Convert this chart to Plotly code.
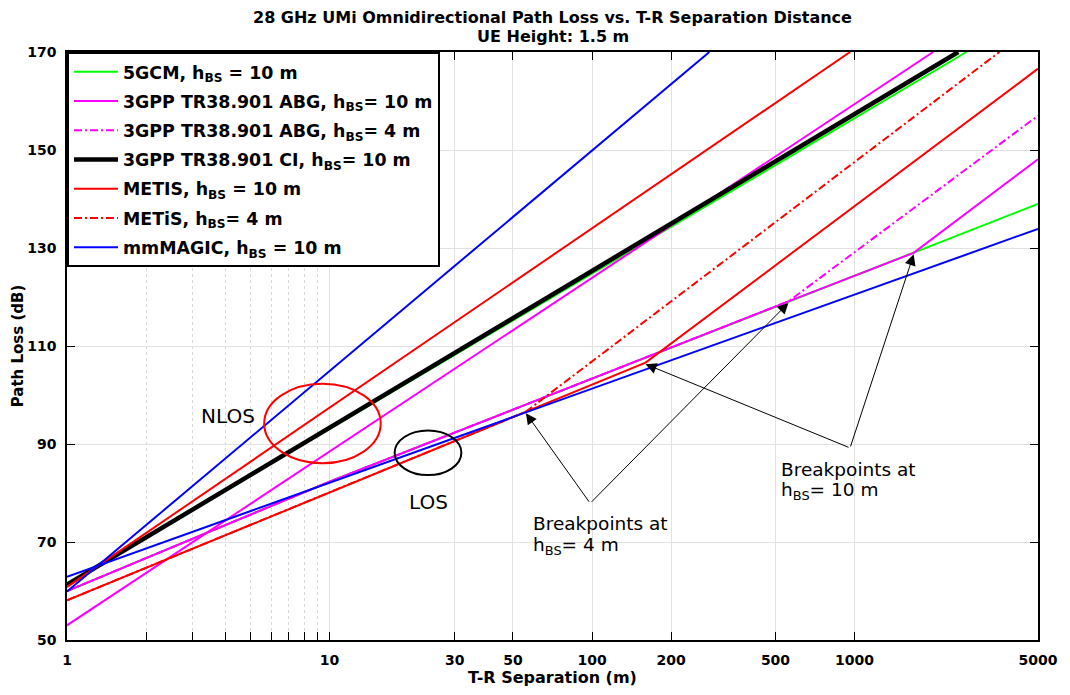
import math
import plotly.graph_objects as go

# ---- data (distance in m, path loss in dB) ----
gcm_nlos_d = [1, 2670];            gcm_nlos_pl = [61.4, 170.0]
gcm_los_d = [1, 10, 5000];         gcm_los_pl = [60.0, 82.3, 139.0]
abg10_nlos_d = [1, 1995];          abg10_nlos_pl = [53.0, 170.0]
abg10_los_d = [1, 10, 560, 1680, 5000]
abg10_los_pl = [60.0, 82.3, 119.1, 129.0, 148.1]
abg4_los_d = [1, 10, 560, 5000];   abg4_los_pl = [60.0, 82.3, 119.1, 157.0]
ci_nlos_d = [1, 2485];             ci_nlos_pl = [61.3, 170.0]
metis10_nlos_d = [1, 962];         metis10_nlos_pl = [60.8, 170.0]
metis10_los_d = [1, 160, 5000];    metis10_los_pl = [58.1, 106.6, 166.6]
metis4_los_d = [1, 56, 3565];      metis4_los_pl = [58.1, 96.6, 170.0]
mm_nlos_d = [1, 280];              mm_nlos_pl = [59.9, 170.0]
mm_los_d = [1, 5000];              mm_los_pl = [62.9, 133.9]

x_tickvals = [1, 10, 30, 50, 100, 200, 500, 1000, 5000]
x_ticktext = ["1", "10", "30", "50", "100", "200", "500", "1000", "5000"]
x_minor = [2, 3, 4, 5, 6, 7, 8, 9]
y_tickvals = [50, 70, 90, 110, 130, 150, 170]

FONT = "DejaVu Sans"
GREEN, MAG, RED, BLUE = "#00ff00", "#ff00ff", "#ff0000", "#0000ff"
DD = "8px,3px,2px,3px"

fig = go.Figure()

def add(d, pl, color, name, group, show, width=2, dash="solid"):
    fig.add_trace(go.Scatter(
        x=d, y=pl, mode="lines", name=name, legendgroup=group, showlegend=show,
        line=dict(color=color, width=width, dash=dash), hoverinfo="skip"))

add(gcm_nlos_d, gcm_nlos_pl, GREEN, "5GCM, h<sub>BS</sub> = 10 m", "g1", True)
add(gcm_los_d, gcm_los_pl, GREEN, "", "g1", False)
add(abg10_nlos_d, abg10_nlos_pl, MAG, "3GPP TR38.901 ABG, h<sub>BS</sub>= 10 m", "g2", True)
add(abg10_los_d, abg10_los_pl, MAG, "", "g2", False)
add(abg4_los_d, abg4_los_pl, MAG, "3GPP TR38.901 ABG, h<sub>BS</sub>= 4 m", "g3", True, dash=DD)
add(ci_nlos_d, ci_nlos_pl, "black", "3GPP TR38.901 CI, h<sub>BS</sub>= 10 m", "g4", True, width=4.5)
add(metis10_nlos_d, metis10_nlos_pl, RED, "METIS, h<sub>BS</sub> = 10 m", "g5", True)
add(metis10_los_d, metis10_los_pl, RED, "", "g5", False)
add(metis4_los_d, metis4_los_pl, RED, "METiS, h<sub>BS</sub>= 4 m", "g6", True, dash=DD)
add(mm_nlos_d, mm_nlos_pl, BLUE, "mmMAGIC, h<sub>BS</sub> = 10 m", "g7", True)
add(mm_los_d, mm_los_pl, BLUE, "", "g7", False)

# plot area in pixels
L, R, T, B = 67, 1042, 52, 644
def px(x): return (x - L) / (R - L)
def py(y): return (B - y) / (B - T)

ann = []
ann.append(dict(text="<b>28 GHz UMi Omnidirectional Path Loss vs. T-R Separation Distance</b>",
                x=0.5, y=py(17.5), xref="paper", yref="paper", showarrow=False,
                xanchor="center", yanchor="middle",
                font=dict(family=FONT, size=16, color="black")))
ann.append(dict(text="<b>UE Height: 1.5 m</b>",
                x=0.5, y=py(36.5), xref="paper", yref="paper", showarrow=False,
                xanchor="center", yanchor="middle",
                font=dict(family=FONT, size=16, color="black")))

tfont = dict(family=FONT, size=20, color="black")
ann.append(dict(text="NLOS", x=px(229), y=py(418.5), xref="paper", yref="paper",
                xanchor="center", yanchor="middle", showarrow=False, font=tfont))
ann.append(dict(text="LOS", x=px(430), y=py(505), xref="paper", yref="paper",
                xanchor="center", yanchor="middle", showarrow=False, font=tfont))
bfont = dict(family=FONT, size=18.5, color="black")
for (xl, y1, y2, lab) in [(533, 527, 549, "h<sub>BS</sub>= 4 m"),
                          (782, 472, 494, "h<sub>BS</sub>= 10 m")]:
    ann.append(dict(text="Breakpoints at", x=px(xl), y=py(y1), xref="paper", yref="paper",
                    xanchor="left", yanchor="middle", showarrow=False, font=bfont))
    ann.append(dict(text=lab, x=px(xl), y=py(y2), xref="paper", yref="paper",
                    xanchor="left", yanchor="middle", showarrow=False, font=bfont))

# arrows from V vertices to breakpoints
v4 = (1.993, 77.9)
v10 = (2.983, 89.2)
tips4 = [(metis4_los_d[1], metis4_los_pl[1]), (abg4_los_d[2], abg4_los_pl[2])]
tips10 = [(metis10_los_d[1], metis10_los_pl[1]), (abg10_los_d[3], abg10_los_pl[3])]
for v, tips in [(v4, tips4), (v10, tips10)]:
    for (d, p) in tips:
        ann.append(dict(x=math.log10(d), y=p - 0.3, xref="x", yref="y",
                        ax=v[0], ay=v[1], axref="x", ayref="y", text="",
                        showarrow=True, arrowhead=2, arrowsize=2.2, arrowwidth=1,
                        arrowcolor="black"))

shapes = [
    dict(type="circle", xref="paper", yref="paper", x0=px(265), x1=px(382),
         y0=py(466), y1=py(386), line=dict(color=RED, width=2)),
    dict(type="circle", xref="paper", yref="paper", x0=px(396), x1=px(463),
         y0=py(478), y1=py(433), line=dict(color="black", width=2)),
]

fig.update_layout(
    width=1070, height=695,
    margin=dict(l=L, r=1070 - R, t=T, b=695 - B),
    paper_bgcolor="white", plot_bgcolor="white",
    font=dict(family=FONT, color="black"),
    showlegend=True,
    legend=dict(x=0, y=1, xanchor="left", yanchor="top", bgcolor="white",
                bordercolor="black", borderwidth=2, traceorder="grouped",
                tracegroupgap=3.6, itemwidth=44,
                font=dict(family=FONT, size=17.4, color="black", weight="bold")),
    annotations=ann, shapes=shapes,
    xaxis=dict(type="log", range=[0, math.log10(5000)],
               tickmode="array", tickvals=x_tickvals, ticktext=x_ticktext,
               ticks="inside", ticklen=8, tickwidth=1, tickcolor="black",
               showline=True, linecolor="black", linewidth=1.5, mirror="ticks",
               showgrid=True, gridcolor="#e2e2e2", gridwidth=1, zeroline=False,
               tickfont=dict(family=FONT, size=14, color="black", weight="bold"),
               ticklabelstandoff=6,
               minor=dict(tickmode="array", tickvals=x_minor, ticks="inside", ticklen=8,
                          tickcolor="black", showgrid=True, gridcolor="#d8d8d8",
                          griddash="dot", gridwidth=1),
               title=dict(text="<b>T-R Separation (m)</b>", standoff=4,
                          font=dict(family=FONT, size=16, color="black"))),
    yaxis=dict(range=[50, 170], tickmode="array", tickvals=y_tickvals,
               ticks="inside", ticklen=8, tickwidth=1, tickcolor="black",
               showline=True, linecolor="black", linewidth=1.5, mirror="ticks",
               showgrid=True, gridcolor="#e2e2e2", gridwidth=1, zeroline=False,
               tickfont=dict(family=FONT, size=14, color="black", weight="bold"),
               ticklabelstandoff=6,
               title=dict(text="<b>Path Loss (dB)</b>", standoff=0,
                          font=dict(family=FONT, size=15, color="black"))),
)

fig.write_html("out.html")
